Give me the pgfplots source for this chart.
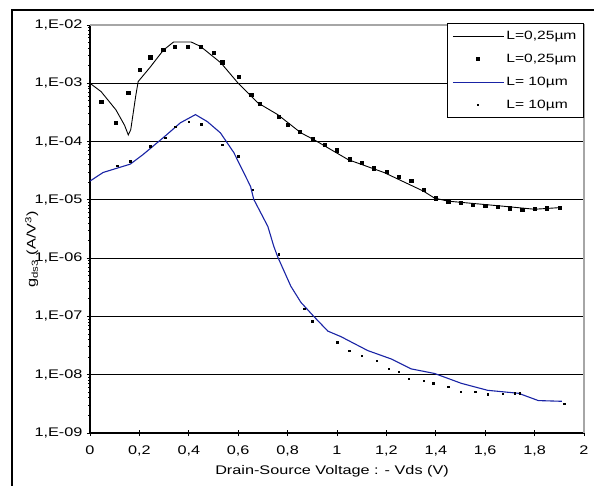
\documentclass[border=0pt]{standalone}
\usepackage{pgfplots}
\pgfplotsset{compat=1.18}
\usepackage{fontspec}
\setmainfont{Liberation Sans}[FakeStretch=1.3]
\definecolor{curveblue}{RGB}{25,35,165}
\pgfplotsset{
  leglong/.style={legend image code/.code={\draw[##1] (0pt,0pt) -- (51pt,0pt);}},
  legdot/.style={legend image code/.code={\draw[##1] plot coordinates {(25pt,0pt)};}},
}
\begin{document}
\begin{tikzpicture}
\begin{axis}[
  scale only axis,
  width=494pt, height=408pt,
  ymode=log,
  xmin=0, xmax=2, ymin=1e-9, ymax=1e-2,
  axis x line*=bottom, axis y line*=left,
  axis line style={line width=1.2pt},
  xtick={0,0.2,0.4,0.6,0.8,1,1.2,1.4,1.6,1.8,2},
  xticklabels={0,{0,2},{0,4},{0,6},{0,8},1,{1,2},{1,4},{1,6},{1,8},2},
  ytick={1e-9,1e-8,1e-7,1e-6,1e-5,1e-4,1e-3,1e-2},
  yticklabels={{1,E-09},{1,E-08},{1,E-07},{1,E-06},{1,E-05},{1,E-04},{1,E-03},{1,E-02}},
  tick align=center,
  major tick length=6pt, minor tick length=3pt,
  tick style={black, line width=0.9pt},
  ymajorgrids, major grid style={black, line width=1.2pt},
  tick label style={font=\fontsize{12.5}{14}\selectfont},
  yticklabel style={xshift=-1pt},
  xticklabel style={yshift=-6pt},
  xlabel={Drain-Source Voltage : - Vds (V)},
  xlabel style={font=\fontsize{12.5}{14}\selectfont, at={(axis description cs:0.49,-0.093)}, anchor=center},
  ylabel={g\textsubscript{ds3} (A/V\textsuperscript{3})},
  ylabel style={font=\fontsize{12.5}{14}\selectfont, at={(axis description cs:-0.118,0.45)}, anchor=center},
  legend style={at={(axis description cs:1,1.005)}, anchor=north east, draw=black, line width=1pt,
    font=\fontsize{12}{14}\selectfont, row sep=9pt, inner xsep=5pt, inner ysep=6pt,
    nodes={inner sep=2pt}},
  legend cell align=left,
  clip=false,
]
\addplot[black, line width=0.9pt, leglong] coordinates {
(0,1.0e-3) (0.045,7.2e-4) (0.105,3.5e-4) (0.14,1.9e-4) (0.155,1.3e-4) (0.165,1.6e-4)
(0.185,6.0e-4) (0.195,1.07e-3) (0.244,1.9e-3) (0.297,3.7e-3) (0.338,5.1e-3) (0.41,5.1e-3)
(0.447,4.3e-3) (0.53,2.24e-3) (0.60,1.0e-3) (0.68,4.6e-4) (0.76,2.9e-4) (0.854,1.41e-4)
(0.908,1.07e-4) (1.045,4.9e-5) (1.19,2.95e-5) (1.35,1.41e-5) (1.395,1.07e-5) (1.45,9.5e-6)
(1.67,7.8e-6) (1.80,6.9e-6) (1.91,7.4e-6)
};
\addlegendentry{L=0,25µm}
\addplot[only marks, mark=square*, mark size=1.6pt, black, legdot] coordinates {
(0.045,4.8e-4) (0.105,2.1e-4) (0.155,6.8e-4) (0.2,1.7e-3) (0.244,2.8e-3) (0.296,3.8e-3)
(0.342,4.2e-3) (0.397,4.2e-3) (0.447,4.2e-3) (0.5,3.4e-3) (0.535,2.3e-3) (0.603,1.3e-3)
(0.653,6.3e-4) (0.688,4.5e-4) (0.765,2.7e-4) (0.80,1.95e-4) (0.85,1.48e-4) (0.9,1.12e-4)
(0.95,8.9e-5) (1.0,7.1e-5) (1.05,5.0e-5) (1.1,4.3e-5) (1.15,3.5e-5) (1.2,3.0e-5)
(1.25,2.5e-5) (1.3,2.1e-5) (1.35,1.5e-5) (1.4,1.07e-5) (1.45,9.5e-6) (1.5,8.9e-6)
(1.55,8.3e-6) (1.6,7.9e-6) (1.65,7.6e-6) (1.7,7.2e-6) (1.75,6.8e-6) (1.8,7.1e-6)
(1.85,7.2e-6) (1.9,7.4e-6)
};
\addlegendentry{L=0,25µm}
\addplot[curveblue, line width=1.1pt, leglong] coordinates {
(0,2.1e-5) (0.053,2.95e-5) (0.163,4.1e-5) (0.215,6.0e-5) (0.297,1.17e-4) (0.366,2.1e-4)
(0.427,2.9e-4) (0.475,2.2e-4) (0.528,1.41e-4) (0.582,6.5e-5) (0.65,1.7e-5) (0.663,1.02e-5)
(0.72,3.5e-6) (0.744,1.6e-6) (0.76,1.05e-6) (0.813,3.3e-7) (0.854,1.74e-7) (0.908,9.8e-8)
(0.963,5.6e-8) (1.016,4.5e-8) (1.124,2.6e-8) (1.22,1.86e-8) (1.30,1.26e-8) (1.395,1.05e-8)
(1.504,7.1e-9) (1.61,5.4e-9) (1.735,4.8e-9) (1.815,3.6e-9) (1.91,3.5e-9)
};
\addlegendentry{L= 10µm}
\addplot[only marks, mark=square*, mark size=0.7pt, black, legdot] coordinates {
(0.11,3.9e-5) (0.163,4.6e-5) (0.244,8.3e-5) (0.305,1.17e-4) (0.345,1.8e-4) (0.40,2.2e-4)
(0.451,2.0e-4) (0.535,8.9e-5) (0.60,5.6e-5) (0.658,1.5e-5) (0.765,1.17e-6) (0.867,1.35e-7)
(0.90,8.3e-8) (1.0,3.6e-8) (1.05,2.6e-8) (1.10,2.1e-8) (1.16,1.74e-8) (1.21,1.26e-8)
(1.25,1.12e-8) (1.29,8.5e-9) (1.35,7.9e-9) (1.39,7.1e-9) (1.45,6.3e-9) (1.5,5.1e-9)
(1.56,5.1e-9) (1.61,4.6e-9) (1.67,4.7e-9) (1.72,4.8e-9) (1.74,4.8e-9) (1.92,3.2e-9)
};
\addlegendentry{L= 10µm}
\draw[gray!70, line width=1.3pt] (rel axis cs:0,1) -- (rel axis cs:1,1) -- (rel axis cs:1,0);
\end{axis}
\draw[black, line width=1.3pt] (-78pt,-60pt) -- (-78pt,423pt) -- (510pt,423pt);
\pgfresetboundingbox
\useasboundingbox (-90pt,-53pt) rectangle (504pt,433pt);
\end{tikzpicture}
\end{document}
